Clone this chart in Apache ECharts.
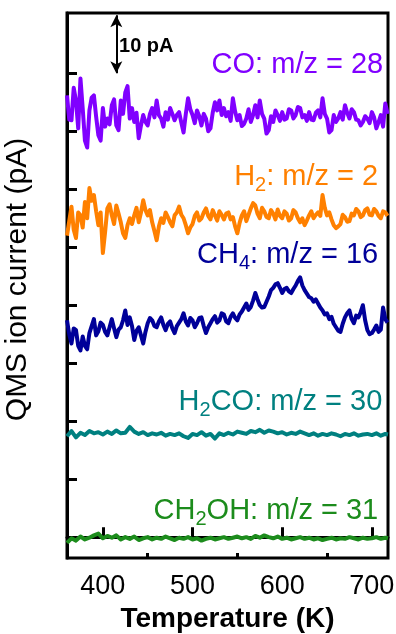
<!DOCTYPE html>
<html><head><meta charset="utf-8">
<script src="https://cdn.jsdelivr.net/npm/echarts@6/dist/echarts.min.js"></script>
<style>html,body{margin:0;padding:0;background:#fff}#c{width:396px;height:634px}</style>
</head><body><div id="c"></div>
<script>
// Temperature (K), fine sampling for the noisy traces
const temperatureFine = [360,362.5,365,367.5,370,372.5,375,377.5,380,382.5,385,387.5,390,392.5,395,397.5,400,402.5,405,407.5,
 410,412.5,415,417.5,420,422.5,425,427.5,430,432.5,435,437.5,440,442.5,445,447.5,450,452.5,455,457.5,
 460,462.5,465,467.5,470,472.5,475,477.5,480,482.5,485,487.5,490,492.5,495,497.5,500,502.5,505,507.5,
 510,512.5,515,517.5,520,522.5,525,527.5,530,532.5,535,537.5,540,542.5,545,547.5,550,552.5,555,557.5,
 560,562.5,565,567.5,570,572.5,575,577.5,580,582.5,585,587.5,590,592.5,595,597.5,600,602.5,605,607.5,
 610,612.5,615,617.5,620,622.5,625,627.5,630,632.5,635,637.5,640,642.5,645,647.5,650,652.5,655,657.5,
 660,662.5,665,667.5,670,672.5,675,677.5,680,682.5,685,687.5,690,692.5,695,697.5,700,702.5,705,707.5,
 710,712.5,715,717.5];
// Temperature (K), coarse sampling for the quiet traces
const temperatureCoarse = [360,365,370,375,380,385,390,395,400,405,410,415,420,425,430,435,440,445,450,455,
 460,465,470,475,480,485,490,495,500,505,510,515,520,525,530,535,540,545,550,555,
 560,565,570,575,580,585,590,595,600,605,610,615,620,625,630,635,640,645,650,655,
 660,665,670,675,680,685,690,695,700,705,710,715,718];
// QMS ion current (pA); traces are offset vertically as in the figure
const co = [76.2,72.0,71.9,77.5,75.3,70.5,79.1,74.0,68.4,67.2,
 73.6,75.8,76.2,72.5,69.3,68.4,74.0,70.8,72.2,71.2,
 74.5,75.5,71.0,70.2,75.3,73.0,76.7,77.8,72.2,74.0,
 71.6,73.2,68.8,71.0,72.8,71.6,71.0,73.0,74.0,72.4,
 75.3,72.8,72.2,70.8,73.3,72.0,74.0,73.0,71.9,72.8,
 73.3,71.5,69.8,73.0,75.7,73.8,72.8,71.4,73.6,72.6,
 71.0,73.0,72.2,70.0,70.5,73.2,75.0,73.6,75.3,72.8,
 74.0,72.6,73.3,71.8,75.7,73.4,71.9,72.8,70.9,71.3,
 72.2,73.8,71.6,72.8,74.5,72.4,75.3,73.0,72.2,69.6,
 70.2,72.6,71.6,73.6,72.8,71.8,73.3,72.0,72.2,73.8,
 73.6,72.2,72.8,74.2,74.0,72.4,72.8,71.8,73.3,72.0,
 71.9,73.2,73.6,72.4,75.7,73.0,72.2,69.8,70.2,72.8,
 71.6,72.2,73.3,72.0,74.5,73.2,72.2,73.8,73.3,72.0,
 71.9,71.0,71.6,72.6,72.2,71.4,73.3,72.4,70.5,71.6,
 72.8,70.8,74.8,73.0];
const h2 = [52.0,54.5,57.0,53.0,51.6,56.0,55.5,53.4,57.8,55.0,
 60.2,58.0,59.0,56.2,53.8,56.0,49.0,52.6,56.7,57.4,
 55.5,54.0,57.2,55.8,54.3,52.4,51.6,53.8,55.0,54.0,
 55.5,56.8,54.3,56.0,58.1,56.4,55.5,56.4,54.3,52.8,
 51.2,53.6,55.0,54.2,56.0,55.2,54.3,53.6,55.5,56.0,
 57.0,55.6,55.0,53.8,52.4,53.4,54.0,55.4,56.0,54.6,
 55.0,56.0,56.7,55.4,54.8,56.4,55.5,54.6,56.2,55.6,
 54.8,55.8,56.0,54.8,55.2,53.6,52.4,54.2,55.5,56.2,
 54.5,55.6,56.7,57.6,57.2,55.8,55.0,56.8,56.2,55.2,
 55.0,56.4,55.8,54.8,56.5,55.4,55.0,56.2,55.8,54.6,
 55.0,56.4,56.0,55.0,54.3,55.0,53.8,54.6,55.5,56.2,
 55.0,55.6,56.0,55.4,59.0,56.8,55.5,56.0,54.8,53.8,
 53.3,53.6,54.0,55.6,55.2,54.4,54.5,55.8,55.5,56.6,
 56.2,55.2,55.5,56.4,56.7,55.6,55.5,56.6,56.2,55.4,
 55.0,56.2,56.0,55.4];
const ch4 = [37.4,35.0,33.4,36.0,35.7,33.0,32.2,34.6,33.0,32.4,
 35.2,36.4,37.6,34.8,35.5,37.0,36.6,35.4,34.8,36.2,
 37.6,36.0,34.5,35.8,36.2,37.4,39.1,36.6,37.9,36.4,
 34.0,35.6,36.2,34.8,33.4,35.4,36.9,37.8,37.4,36.4,
 36.2,37.2,37.9,36.6,35.7,36.8,37.2,36.0,35.2,36.4,
 37.0,37.6,38.6,37.2,36.5,37.8,37.4,36.2,36.9,37.8,
 37.9,36.4,35.2,36.2,36.9,37.6,38.1,37.0,37.4,38.6,
 38.4,37.2,36.9,38.0,38.6,37.8,37.4,38.4,38.9,39.6,
 40.3,39.2,39.7,40.8,42.1,41.0,40.0,39.6,39.7,40.6,
 41.5,42.6,43.0,43.6,43.8,43.0,42.1,42.8,43.0,42.4,
 42.1,42.8,43.4,44.2,44.8,43.4,42.6,42.0,41.4,41.2,
 40.6,41.0,40.3,39.6,39.1,38.4,38.6,37.6,38.0,36.8,
 36.2,35.6,35.4,36.8,37.9,38.6,39.1,37.6,36.9,38.2,
 37.9,38.8,40.0,37.4,35.7,35.0,35.2,35.8,36.5,35.4,
 35.8,39.6,37.6,37.0];
const h2co = [17.4,18.3,17.2,18.0,17.6,18.3,17.9,18.1,17.7,18.2,
 17.8,18.4,17.9,18.0,19.0,18.2,17.8,18.1,17.6,17.9,
 17.7,18.0,17.5,17.8,17.6,17.9,17.4,17.1,17.8,17.6,
 18.1,17.5,17.8,17.0,17.9,17.6,18.0,17.7,18.2,18.0,
 17.8,18.3,18.1,18.5,18.0,18.4,18.2,17.9,18.1,17.7,
 18.0,17.8,18.2,17.9,17.6,17.9,17.5,17.8,17.6,17.9,
 17.7,17.4,17.8,17.6,17.9,17.5,17.7,17.8,17.6,17.9,
 17.5,17.8,17.7];
const ch2oh = [-1.0,-0.2,-0.6,0.1,-0.4,-0.1,0.3,0.6,-0.2,0.2,
 -0.1,0.3,-0.4,0.0,-0.3,0.1,-0.5,-0.2,0.0,-0.4,
 -0.1,-0.3,0.1,-0.2,-0.5,-0.1,-0.3,0.0,-0.4,-0.2,
 -0.6,-0.3,-0.1,-0.4,-0.2,0.0,-0.3,-0.1,0.1,-0.2,
 0.0,-0.3,0.2,-0.1,0.3,0.0,-0.2,0.1,-0.3,-0.1,
 -0.4,-0.2,0.0,-0.3,-0.1,-0.4,-0.2,-0.5,-0.3,-0.1,
 -0.4,-0.2,-0.3,0.0,-0.2,-0.4,-0.1,-0.3,-0.2,0.0,
 -0.3,-0.1,-0.2];
const xMajorTicks = [400,500,600,700];
const xMinorTicks = [450,550,650];
const yTicks = [0,10,20,30,40,50,60,70,80];
const seriesNames = ['CO','H2','CH4','H2CO','CH2OH'];
const seriesLabels = [
  '{n|CO: m/z = 28}',
  '{n|H}{s|2}{n|: m/z = 2}',
  '{n|CH}{s|4}{n|: m/z = 16}',
  '{n|H}{s|2}{n|CO: m/z = 30}',
  '{n|CH}{s|2}{n|OH: m/z = 31}'
];
const scaleBarLabel = '10 pA';

// layout / style (not data)
const colors = ['#8000FF','#FF8000','#000099','#008080','#1C8C1C'];
const labelAnchors = [[712.7,81.4],[707.1,62.1],[707.1,48.6],[711.6,23.3],[707.1,4.5]];
const FONT = '"Liberation Sans", Arial, sans-serif';

const values = [co,h2,ch4,h2co,ch2oh];
const xs = [temperatureFine,temperatureFine,temperatureFine,temperatureCoarse,temperatureCoarse];
const series = values.map((arr,i)=>({
  name: seriesNames[i], type:'line', showSymbol:false, symbol:'none',
  data: xs[i].map((t,j)=>[t,arr[j]]),
  lineStyle:{color:colors[i], width:4, join:'round'}, itemStyle:{color:colors[i]},
  silent:true, animation:false, z:3
}));
series.push({
  type:'scatter', symbolSize:0, animation:false, silent:true, z:5,
  itemStyle:{opacity:1},
  data: labelAnchors.map((p,i)=>({
    value:p,
    label:{show:true, position:'left', distance:0, formatter:seriesLabels[i], opacity:1,
      rich:{
        n:{fontSize:29, fontFamily:FONT, color:colors[i]},
        s:{fontSize:20, fontFamily:FONT, color:colors[i], padding:[16,0,0,0]}
      }}
  }))
});
// 10 pA scale bar
series.push({
  type:'line', data:[], animation:false, silent:true,
  markLine:{
    silent:true, symbol:['arrow','arrow'], symbolSize:[9,12],
    lineStyle:{color:'#000', width:2, type:'solid'}, label:{show:false},
    data:[[{coord:[415,80]},{coord:[415,90]}]]
  },
  markPoint:{
    symbolSize:0, silent:true,
    data:[{coord:[418,84.6], label:{show:true, position:'right', distance:0, formatter:scaleBarLabel,
      fontSize:20, fontWeight:'bold', fontFamily:FONT, color:'#000'}}]
  }
});

const chart = echarts.init(document.getElementById('c'), null, {renderer:'canvas'});
chart.setOption({
  animation:false,
  grid:{left:67, right:8, top:13, bottom:76, outerBoundsMode:'none', containLabel:false,
    show:true, borderColor:'#000', borderWidth:3, backgroundColor:'transparent'},
  xAxis:[{
    type:'value', min:360, max:718,
    axisLine:{lineStyle:{color:'#000', width:3}},
    axisTick:{inside:true, length:10, lineStyle:{color:'#000', width:3}, customValues:xMajorTicks},
    axisLabel:{customValues:xMajorTicks, fontSize:27, fontFamily:FONT, color:'#000', margin:15},
    splitLine:{show:false},
    name:'Temperature (K)', nameLocation:'middle', nameGap:45,
    nameTextStyle:{fontSize:28, fontWeight:'bold', fontFamily:FONT, color:'#000'}
  },{
    type:'value', min:360, max:718, position:'bottom',
    axisLine:{show:false},
    axisTick:{inside:true, length:5, lineStyle:{color:'#000', width:3}, customValues:xMinorTicks},
    axisLabel:{show:false}, splitLine:{show:false}
  }],
  yAxis:{
    type:'value', min:-3.6, max:90.4,
    axisLine:{lineStyle:{color:'#000', width:3}},
    axisTick:{inside:true, length:10, lineStyle:{color:'#000', width:3}, customValues:yTicks},
    axisLabel:{show:false}, splitLine:{show:false},
    name:'QMS ion current (pA)', nameLocation:'middle', nameGap:34,
    nameTextStyle:{fontSize:30, fontFamily:FONT, color:'#000', padding:[0,0,0,12]}
  },
  series: series
});
</script></body></html>
